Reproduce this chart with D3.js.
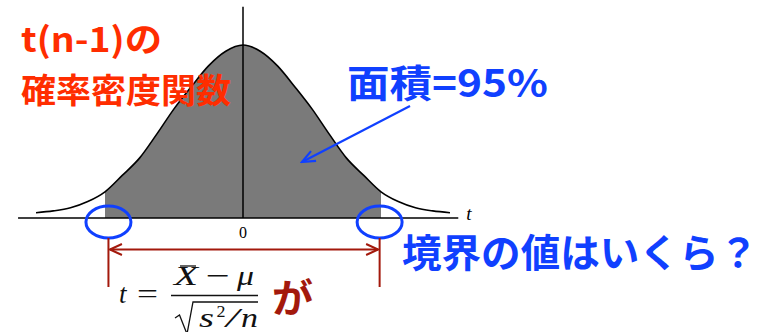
<!DOCTYPE html>
<html lang="ja">
  <head>
    <meta charset="utf-8">
    <title>t分布の確率密度関数</title>
    <script src="https://d3js.org/d3.v7.min.js"></script>
    <style>
      body { margin: 0; background: #fff; }
      svg { display: block; }
      .jp { font-family: "Noto Sans CJK JP", "Noto Sans", sans-serif; font-weight: bold; }
      .math { font-family: "Liberation Serif", "DejaVu Serif", serif; }
    </style>
  </head>
  <body>
    <div id="chart"></div>
    <script>
      // density curve (t, f(t))
      var tValues = [-3, -2.75, -2.5, -2.25, -2, -1.75, -1.5, -1.25, -1, -0.75, -0.5, -0.25, 0,
                     0.25, 0.5, 0.75, 1, 1.25, 1.5, 1.75, 2, 2.25, 2.5, 2.75, 3];
      var density = [0.012, 0.016, 0.023, 0.037, 0.059, 0.096, 0.135, 0.189, 0.246, 0.296, 0.343, 0.376, 0.390,
                     0.376, 0.343, 0.296, 0.246, 0.189, 0.135, 0.096, 0.059, 0.037, 0.023, 0.016, 0.012];
      var critical = [-2, 2];          // edges of the shaded 95% region
      var axisExtent = [-3.26, 3.12];  // horizontal axis line
      var axisTop = 0.476;             // top of the vertical axis line
      var tickLabels = ["0"];
      var markT = [-1.95, 1.98];       // ellipses and dimension lines

      var width = 766, height = 332;
      var svg = d3.select("#chart").append("svg")
        .attr("width", width)
        .attr("height", height);

      var x = d3.scaleLinear().domain([-3, 3]).range([36, 450]);
      var y = d3.scaleLinear().domain([0, 0.39]).range([218, 45]);

      var points = tValues.map(function(t, i) { return { t: t, d: density[i] }; });

      var defs = svg.append("defs");
      defs.append("marker").attr("id", "redHead")
        .attr("viewBox", "-13 -7 15 14").attr("refX", 0).attr("refY", 0)
        .attr("markerWidth", 15).attr("markerHeight", 14)
        .attr("markerUnits", "userSpaceOnUse")
        .attr("orient", "auto-start-reverse")
        .append("path").attr("d", "M-12,-5.5 L0,0 L-12,5.5")
        .attr("fill", "none").attr("stroke", "#a3190c").attr("stroke-width", 2);
      defs.append("marker").attr("id", "blueHead")
        .attr("viewBox", "-15 -8 17 16").attr("refX", 0).attr("refY", 0)
        .attr("markerWidth", 17).attr("markerHeight", 16)
        .attr("markerUnits", "userSpaceOnUse")
        .attr("orient", "auto")
        .append("path").attr("d", "M-13,-5.5 L0,0 L-13,5.5")
        .attr("fill", "none").attr("stroke", "#1040ff").attr("stroke-width", 2.2);

      // shaded area
      var area = d3.area()
        .x(function(p) { return x(p.t); })
        .y0(y(0))
        .y1(function(p) { return y(p.d); })
        .curve(d3.curveMonotoneX);
      svg.append("path")
        .datum(points.filter(function(p) { return p.t >= critical[0] && p.t <= critical[1]; }))
        .attr("d", area)
        .attr("fill", "#7a7a7a");

      // axes
      svg.append("line")
        .attr("x1", x(axisExtent[0])).attr("x2", x(axisExtent[1]))
        .attr("y1", y(0)).attr("y2", y(0))
        .attr("stroke", "#000").attr("stroke-width", 1.5);
      svg.append("line")
        .attr("x1", x(0)).attr("x2", x(0))
        .attr("y1", y(0)).attr("y2", y(axisTop))
        .attr("stroke", "#000").attr("stroke-width", 1.5);

      // curve
      var line = d3.line()
        .x(function(p) { return x(p.t); })
        .y(function(p) { return y(p.d); })
        .curve(d3.curveMonotoneX);
      svg.append("path")
        .datum(points)
        .attr("d", line)
        .attr("fill", "none")
        .attr("stroke", "#000")
        .attr("stroke-width", 1.6);

      // tick label and axis name
      svg.selectAll(".tick").data(tickLabels).enter().append("text")
        .attr("class", "math")
        .attr("x", function(d) { return x(+d); })
        .attr("y", 238)
        .attr("text-anchor", "middle")
        .attr("font-size", 16)
        .text(function(d) { return d; });
      svg.append("text").attr("class", "math")
        .attr("x", x(axisExtent[1]) + 8).attr("y", 220)
        .attr("font-size", 19).attr("font-style", "italic")
        .text("t");

      // blue ellipses at the boundaries
      svg.selectAll(".ring").data(markT).enter().append("ellipse")
        .attr("cx", function(d) { return x(d); })
        .attr("cy", 222)
        .attr("rx", 22.5).attr("ry", 16)
        .attr("fill", "none")
        .attr("stroke", "#1040ff")
        .attr("stroke-width", 3);

      // red dimension line
      svg.selectAll(".tickRed").data(markT).enter().append("line")
        .attr("x1", function(d) { return x(d); }).attr("x2", function(d) { return x(d); })
        .attr("y1", 238).attr("y2", 287)
        .attr("stroke", "#a3190c").attr("stroke-width", 2);
      svg.append("line")
        .attr("x1", x(markT[0]) + 1.5).attr("x2", x(markT[1]) - 1.5)
        .attr("y1", 249.5).attr("y2", 249.5)
        .attr("stroke", "#a3190c").attr("stroke-width", 2)
        .attr("marker-start", "url(#redHead)")
        .attr("marker-end", "url(#redHead)");

      // blue arrow to the area
      svg.append("line")
        .attr("x1", 410).attr("y1", 106)
        .attr("x2", 302).attr("y2", 162)
        .attr("stroke", "#1040ff").attr("stroke-width", 2.2)
        .attr("marker-end", "url(#blueHead)");

      // labels
      function label(txt, px, py, size, len, color) {
        svg.append("text").attr("class", "jp")
          .attr("x", px).attr("y", py)
          .attr("font-size", size)
          .attr("fill", color)
          .attr("textLength", len)
          .attr("lengthAdjust", "spacingAndGlyphs")
          .text(txt);
      }
      label("t(n-1)の", 21, 51.5, 34, 141, "#ff2d00");
      label("確率密度関数", 21, 103, 34, 210, "#ff2d00");
      label("面積=95%", 347, 97, 38, 201, "#1040ff");
      label("境界の値はいくら？", 402, 267, 39, 356, "#1040ff");
      label("が", 272, 312, 39, 41, "#a3190c");

      // formula  t = (X̄ − μ) / sqrt(s²/n)
      var m = svg.append("g").attr("class", "math").attr("fill", "#111");
      function glyph(txt, px, py, size, len, italic) {
        var t = m.append("text").attr("x", px).attr("y", py)
          .attr("font-size", size)
          .attr("font-style", italic ? "italic" : "normal")
          .text(txt);
        if (len) t.attr("textLength", len).attr("lengthAdjust", "spacingAndGlyphs");
      }
      glyph("t", 119, 303, 27, 0, true);
      glyph("=", 137, 303, 28, 21, false);
      glyph("X", 174, 285, 27, 24, true);
      m.append("line").attr("x1", 180).attr("x2", 196).attr("y1", 266).attr("y2", 266)
        .attr("stroke", "#111").attr("stroke-width", 1.3);
      glyph("\u2212", 206, 285, 28, 24, false);
      glyph("\u03bc", 237, 285, 28, 17, true);
      m.append("line").attr("x1", 171).attr("x2", 258).attr("y1", 295.5).attr("y2", 295.5)
        .attr("stroke", "#111").attr("stroke-width", 1.3);
      m.append("path").attr("d", "M175,318 L179.5,315 L187,334 L193,302 L258,302")
        .attr("fill", "none").attr("stroke", "#111").attr("stroke-width", 1.3);
      glyph("s", 199, 327, 27, 15, true);
      glyph("2", 216.5, 317, 17, 9, false);
      glyph("/", 226, 327, 27, 13, true);
      glyph("n", 241, 327, 27, 17, true);
    </script>
  </body>
</html>
